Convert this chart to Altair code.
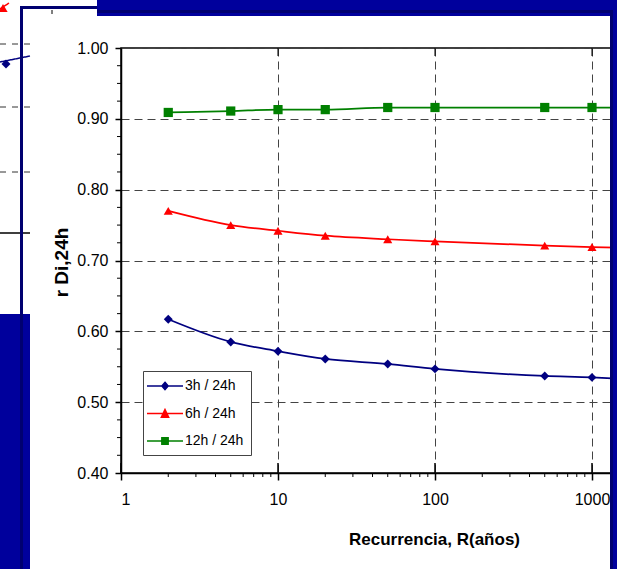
import altair as alt
import pandas as pd

# ---------------- data ----------------
recurrence = [2, 5, 10, 20, 50, 100, 500, 1000]
ratio_3h = [0.617, 0.585, 0.572, 0.561, 0.554, 0.547, 0.537, 0.535]
ratio_6h = [0.770, 0.750, 0.742, 0.735, 0.730, 0.727, 0.721, 0.719]
ratio_12h = [0.909, 0.911, 0.913, 0.913, 0.916, 0.916, 0.916, 0.916]
# the curves carry on past the right edge of the picture
tail_recurrence = 1500
tail_values = [0.533, 0.718, 0.916]

series_names = ["3h / 24h", "6h / 24h", "12h / 24h"]
series_colors = ["#000080", "#FF0000", "#008000"]
series_shapes = ["diamond", "triangle-up", "square"]
series_sizes = [80, 85, 56]
# legend glyphs: a short line with the marker in its middle
legend_glyphs = [
    "M-2.571,0H2.571M0,-0.52L0.45,0L0,0.52L-0.45,0Z",
    "M-2.571,0H2.571M0,-0.57L0.52,0.52L-0.52,0.52Z",
    "M-2.571,0H2.571M-0.45,-0.45H0.45V0.45H-0.45Z",
]

x_major = [1, 10, 100, 1000]
x_minor = [2, 3, 4, 5, 6, 7, 8, 9, 20, 30, 40, 50, 60, 70, 80, 90,
           200, 300, 400, 500, 600, 700, 800, 900]
x_top_ticks = [10, 100, 1000]
y_major = [0.4, 0.5, 0.6, 0.7, 0.8, 0.9, 1.0]
y_minor = [0.425, 0.45, 0.475, 0.525, 0.55, 0.575, 0.625, 0.65, 0.675,
           0.725, 0.75, 0.775, 0.825, 0.85, 0.875, 0.925, 0.95, 0.975]

x_title = "Recurrencia, R(años)"
y_title = "r Di,24h"

# ---------------- tables ----------------
all_values = [ratio_3h, ratio_6h, ratio_12h]
pts = pd.DataFrame([
    {"R": r, "v": v, "series": s}
    for s, vals in zip(series_names, all_values)
    for r, v in zip(recurrence, vals)
])
tail = pd.DataFrame([
    {"R": tail_recurrence, "v": v, "series": s}
    for s, v in zip(series_names, tail_values)
])
line_df = pd.concat([pts, tail], ignore_index=True)

# ---------------- layout ----------------
W, H = 496, 425
PAD_L, PAD_T = 121, 48
FONT = "Liberation Sans"
NAVY = "#00009C"
NAVY_DARK = "#000070"

x_scale = alt.Scale(type="log", domain=[1, 1443], nice=False)
y_scale = alt.Scale(domain=[0.4, 1.0], nice=False, zero=False)
color_scale = alt.Scale(domain=series_names, range=series_colors)

x_axis = alt.Axis(
    values=x_major, format="d", title=x_title,
    labelFont=FONT, labelFontSize=16, labelColor="black", labelPadding=11,
    tickSize=7, tickWidth=1.5, tickColor="black",
    domainColor="black", domainWidth=1.5,
    grid=True, gridDash=[8, 5], gridColor="#444444", gridWidth=1,
    titleFont=FONT, titleFontSize=17, titleFontWeight="bold", titleColor="black",
    titleX=313, titleY=71, titleBaseline="alphabetic", titleAlign="center",
)
y_axis = alt.Axis(
    values=y_major, format=".2f", title=y_title,
    labelFont=FONT, labelFontSize=16, labelColor="black", labelPadding=7,
    tickSize=6, tickWidth=1.5, tickColor="black",
    domainColor="black", domainWidth=1.5,
    grid=True, gridDash=[8, 5], gridColor="#444444", gridWidth=1,
    titleFont=FONT, titleFontSize=19, titleFontWeight="bold", titleColor="black",
    titleX=-54, titleY=214, titleAngle=270, titleBaseline="alphabetic",
    titleAlign="center",
)

legend = alt.Legend(
    title=None, orient="none", legendX=22, legendY=323,
    fillColor="white", strokeColor="#444444", padding=7, rowPadding=12.5,
    symbolSize=196, symbolOffset=7, labelOffset=12, symbolOpacity=1,
    symbolStrokeWidth=1.5,
    labelFont=FONT, labelFontSize=14, labelColor="black",
)


def X(field="R"):
    return alt.X(f"{field}:Q", scale=x_scale, axis=x_axis)


def Y(field="v"):
    return alt.Y(f"{field}:Q", scale=y_scale, axis=y_axis)


lines = alt.Chart(line_df).mark_line(
    interpolate="monotone", strokeWidth=1.75, clip=True
).encode(
    x=X(), y=Y(),
    color=alt.Color("series:N", scale=color_scale, legend=None),
    detail="series:N",
)

points = alt.Chart(pts).mark_point(filled=True, opacity=1).encode(
    x=X(), y=Y(),
    color=alt.Color("series:N", scale=color_scale, legend=None),
    shape=alt.Shape("series:N", scale=alt.Scale(domain=series_names, range=series_shapes), legend=None),
    size=alt.Size("series:N", scale=alt.Scale(domain=series_names, range=series_sizes), legend=None),
)

# invisible layer that only carries the legend (line + marker glyphs)
legend_layer = alt.Chart(pts).mark_point(filled=True, opacity=0).encode(
    x=X(), y=Y(),
    fill=alt.Fill("series:N", scale=alt.Scale(domain=series_names, range=series_colors), legend=legend),
    stroke=alt.Stroke("series:N", scale=alt.Scale(domain=series_names, range=series_colors), legend=legend),
    shape=alt.Shape("series:N", scale=alt.Scale(domain=series_names, range=legend_glyphs), legend=legend),
)

# tick marks the axes cannot draw themselves
bottom_in = alt.Chart(pd.DataFrame({"R": x_major})).mark_rule(color="black", strokeWidth=1.5).encode(
    x=X(), y=alt.value(H), y2=alt.value(H - 10))
bottom_minor = alt.Chart(pd.DataFrame({"R": x_minor})).mark_rule(color="black", strokeWidth=1).encode(
    x=X(), y=alt.value(H), y2=alt.value(H + 4))
top_in = alt.Chart(pd.DataFrame({"R": x_top_ticks})).mark_rule(color="black", strokeWidth=1).encode(
    x=X(), y=alt.value(0), y2=alt.value(8))
left_minor = alt.Chart(pd.DataFrame({"v": y_minor})).mark_rule(color="black", strokeWidth=1).encode(
    y=Y(), x=alt.value(0), x2=alt.value(-4))

ONE = alt.Data(values=[{"k": 1}])

# navy slide frame around the chart (page pixels)
frame = [
    (97, 0, 617, 16, NAVY),
    (610, 0, 617, 569, NAVY),
    (97, 10, 613, 13, NAVY_DARK),
    (610, 10, 613, 569, NAVY_DARK),
    (20, 6, 97, 9, NAVY_DARK),
    (0, 314, 30, 569, NAVY),
    (20, 6, 23, 569, NAVY_DARK),
]
decor = []
for (x0, y0, x1, y1, col) in frame:
    decor.append(
        alt.Chart(ONE).mark_rect(color=col).encode(
            x=alt.value(x0 - PAD_L), x2=alt.value(x1 - PAD_L),
            y=alt.value(y0 - PAD_T), y2=alt.value(y1 - PAD_T),
        )
    )

# pieces of another slide showing behind, at the top-left corner (page pixels)
behind_lines = [
    (0, 44, 30, 44, "#333333", [6, 6], 1),
    (0, 107, 30, 107, "#333333", [6, 6], 1),
    (0, 172, 30, 172, "#333333", [6, 6], 1),
    (0, 233, 30, 233, "black", [1, 0], 1.5),
    (0, 62, 30, 56, "#000080", [1, 0], 1.5),
    (0, 9, 9, 3, "#FF0000", [1, 0], 1.5),
    (52, 10, 52, 14, "black", [1, 0], 1),
]
behind = []
for (x0, y0, x1, y1, col, dash, sw) in behind_lines:
    behind.append(
        alt.Chart(ONE).mark_rule(color=col, strokeDash=dash, strokeWidth=sw).encode(
            x=alt.value(x0 - PAD_L), x2=alt.value(x1 - PAD_L),
            y=alt.value(y0 - PAD_T), y2=alt.value(y1 - PAD_T),
        )
    )
behind_marks = [(6, 64, "#000080", "diamond", 80), (3, 8, "#FF0000", "triangle-up", 85)]
for (px, py, col, shp, sz) in behind_marks:
    behind.append(
        alt.Chart(ONE).mark_point(filled=True, opacity=1, color=col, shape=shp, size=sz).encode(
            x=alt.value(px - PAD_L), y=alt.value(py - PAD_T),
        )
    )

chart = alt.layer(
    lines, points, legend_layer, bottom_in, bottom_minor, top_in, left_minor,
    *behind, *decor
).resolve_scale(
    shape="independent", fill="independent", stroke="independent"
).properties(
    width=W, height=H,
    padding={"left": PAD_L, "top": PAD_T, "right": 0, "bottom": 569 - PAD_T - H},
    autosize=alt.AutoSizeParams(type="none"),
    background="white",
).configure_view(stroke="black", strokeWidth=1.5)

chart.save("out.html", embed_options={"renderer": "svg", "actions": False})
